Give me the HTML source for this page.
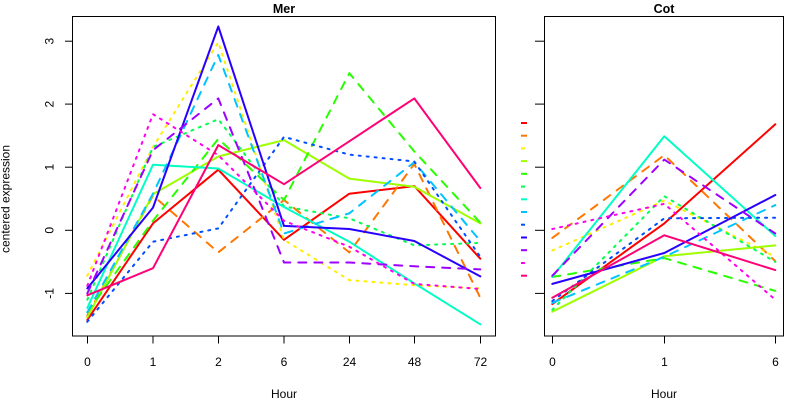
<!DOCTYPE html>
<html><head><meta charset="utf-8"><style>
html,body{margin:0;padding:0;background:#fff;}
svg{display:block;}
text{font-family:"Liberation Sans",Arial,sans-serif;fill:#000;}
</style></head><body>
<svg width="800" height="400" viewBox="0 0 800 400" xmlns="http://www.w3.org/2000/svg">
<rect width="800" height="400" fill="#fff"/>
<!-- titles -->
<text x="284" y="13" font-size="12.5" font-weight="bold" text-anchor="middle">Mer</text>
<text x="664" y="13" font-size="12.5" font-weight="bold" text-anchor="middle">Cot</text>
<!-- y label -->
<text x="9.5" y="199" font-size="12" text-anchor="middle" transform="rotate(-90 9.5 199)">centered expression</text>

<!-- left panel box -->
<rect x="72.5" y="16.5" width="423" height="319.5" fill="none" stroke="#000" stroke-width="1"/>
<!-- right panel box -->
<rect x="544.5" y="16.5" width="239" height="319.5" fill="none" stroke="#000" stroke-width="1"/>

<g stroke="#000" stroke-width="1">
<!-- left y ticks -->
<line x1="65" y1="41.2" x2="72.5" y2="41.2"/>
<line x1="65" y1="104.1" x2="72.5" y2="104.1"/>
<line x1="65" y1="167.2" x2="72.5" y2="167.2"/>
<line x1="65" y1="230.3" x2="72.5" y2="230.3"/>
<line x1="65" y1="293.4" x2="72.5" y2="293.4"/>
<!-- right y ticks -->
<line x1="535" y1="41.2" x2="544.5" y2="41.2"/>
<line x1="535" y1="104.1" x2="544.5" y2="104.1"/>
<line x1="535" y1="167.2" x2="544.5" y2="167.2"/>
<line x1="535" y1="230.3" x2="544.5" y2="230.3"/>
<line x1="535" y1="293.4" x2="544.5" y2="293.4"/>
<!-- left x ticks -->
<line x1="87.5" y1="336" x2="87.5" y2="343.5"/>
<line x1="153" y1="336" x2="153" y2="343.5"/>
<line x1="218.5" y1="336" x2="218.5" y2="343.5"/>
<line x1="284" y1="336" x2="284" y2="343.5"/>
<line x1="349.5" y1="336" x2="349.5" y2="343.5"/>
<line x1="414.5" y1="336" x2="414.5" y2="343.5"/>
<line x1="480.5" y1="336" x2="480.5" y2="343.5"/>
<!-- right x ticks -->
<line x1="552.5" y1="336" x2="552.5" y2="343.5"/>
<line x1="664.5" y1="336" x2="664.5" y2="343.5"/>
<line x1="775.5" y1="336" x2="775.5" y2="343.5"/>
</g>

<!-- y tick labels -->
<g font-size="12" text-anchor="middle">
<text x="53.5" y="41.2" transform="rotate(-90 53.5 41.2)">3</text>
<text x="53.5" y="104.1" transform="rotate(-90 53.5 104.1)">2</text>
<text x="53.5" y="167.2" transform="rotate(-90 53.5 167.2)">1</text>
<text x="53.5" y="230.3" transform="rotate(-90 53.5 230.3)">0</text>
<text x="53.5" y="293.4" transform="rotate(-90 53.5 293.4)">-1</text>
</g>
<!-- x tick labels -->
<g font-size="12" text-anchor="middle">
<text x="87.5" y="366">0</text>
<text x="153" y="366">1</text>
<text x="218.5" y="366">2</text>
<text x="284" y="366">6</text>
<text x="349.5" y="366">24</text>
<text x="414.5" y="366">48</text>
<text x="480.5" y="366">72</text>
<text x="552.5" y="366">0</text>
<text x="664.5" y="366">1</text>
<text x="775.5" y="366">6</text>
<text x="284" y="398">Hour</text>
<text x="664" y="398">Hour</text>
</g>

<!-- series -->
<g fill="none" stroke-width="2" stroke-linecap="round" stroke-linejoin="round">
<!-- 1 red solid -->
<polyline stroke="#FF0000" points="87.3,319.9 153,223.4 218.3,169.7 284,239.8 349.3,193.7 414.3,186.1 480.3,258.7"/>
<polyline stroke="#FF0000" points="552.3,304.1 664.3,223.4 775.3,124.3"/>
<!-- 2 orange dashed -->
<polyline stroke="#FF7600" stroke-dasharray="8 8" points="87.3,315.5 153,195.6 218.3,252.4 284,200 349.3,252.4 414.3,164 480.3,297.8"/>
<polyline stroke="#FF7600" stroke-dasharray="8 8" points="552.3,237.9 664.3,155.2 775.3,261.2"/>
<!-- 3 yellow dotted -->
<polyline stroke="#FFEC00" stroke-dasharray="2 6" points="87.3,275.7 153,147 218.3,42.3 284,239.8 349.3,280.1 414.3,285.2 480.3,288.4"/>
<polyline stroke="#FFEC00" stroke-dasharray="2 6" points="552.3,250.5 664.3,200.6 775.3,256.8"/>
<!-- 4 yellowgreen solid -->
<polyline stroke="#9DFF00" points="87.3,317.4 153,194.3 218.3,156.5 284,140.1 349.3,178.6 414.3,186.8 480.3,223.4"/>
<polyline stroke="#9DFF00" points="552.3,311.7 664.3,256.2 775.3,245.4"/>
<!-- 5 green dashed -->
<polyline stroke="#27FF00" stroke-dasharray="8 8" points="87.3,312.3 153,220.8 218.3,138.8 284,200 349.3,73.2 414.3,151.4 480.3,222.7"/>
<polyline stroke="#27FF00" stroke-dasharray="8 8" points="552.3,277 664.3,258.1 775.3,290.9"/>
<!-- 6 springgreen dotted -->
<polyline stroke="#00FF4E" stroke-dasharray="2 6" points="87.3,299.7 153,147 218.3,119.2 284,206.3 349.3,218.3 414.3,245.4 480.3,242.9"/>
<polyline stroke="#00FF4E" stroke-dasharray="2 6" points="552.3,309.8 664.3,196.2 775.3,261.9"/>
<!-- 7 aquamarine solid -->
<polyline stroke="#00FFC4" points="87.3,307.9 153,164.7 218.3,168.5 284,207 349.3,241.7 414.3,283.3 480.3,324.3"/>
<polyline stroke="#00FFC4" points="552.3,277 664.3,136.3 775.3,236"/>
<!-- 8 lightblue dashed -->
<polyline stroke="#00C4FF" stroke-dasharray="8 8" points="87.3,312.3 153,193.7 218.3,54.9 284,233.5 349.3,213.3 414.3,162.2 480.3,241"/>
<polyline stroke="#00C4FF" stroke-dasharray="8 8" points="552.3,302.9 664.3,256.8 775.3,205.1"/>
<!-- 9 blue dotted -->
<polyline stroke="#004EFF" stroke-dasharray="2 6" points="87.3,321.8 153,241.7 218.3,228.4 284,136.9 349.3,154.6 414.3,161.5 480.3,256.8"/>
<polyline stroke="#004EFF" stroke-dasharray="2 6" points="552.3,301 664.3,218.3 775.3,217.7"/>
<!-- 10 deep blue solid -->
<polyline stroke="#2700FF" points="87.3,288.4 153,207.6 218.3,26.5 284,225.9 349.3,229 414.3,241 480.3,276.4"/>
<polyline stroke="#2700FF" points="552.3,283.9 664.3,253 775.3,195"/>
<!-- 11 purple dashed -->
<polyline stroke="#9D00FF" stroke-dasharray="8 8" points="87.3,293.4 153,150.2 218.3,98.4 284,262.5 349.3,262.5 414.3,266.3 480.3,269.4"/>
<polyline stroke="#9D00FF" stroke-dasharray="8 8" points="552.3,275.7 664.3,159.6 775.3,233.5"/>
<!-- 12 magenta dotted -->
<polyline stroke="#FF00EC" stroke-dasharray="2 6" points="87.3,285.8 153,114.2 218.3,155.2 284,220.8 349.3,246.7 414.3,283.9 480.3,289"/>
<polyline stroke="#FF00EC" stroke-dasharray="2 6" points="552.3,229 664.3,203.8 775.3,299.7"/>
<!-- 13 deep pink solid -->
<polyline stroke="#FF0076" points="87.3,295.3 153,268.2 218.3,145.1 284,184.2 349.3,141.3 414.3,98.4 480.3,188"/>
<polyline stroke="#FF0076" points="552.3,297.8 664.3,235.3 775.3,270.1"/>
</g>

<!-- legend -->
<g stroke-width="2" fill="none">
<line x1="521" y1="123" x2="527" y2="123" stroke="#FF0000"/>
<line x1="521" y1="135.7" x2="527" y2="135.7" stroke="#FF7600"/>
<line x1="521" y1="148.4" x2="525" y2="148.4" stroke="#FFEC00"/>
<line x1="521" y1="161.1" x2="527" y2="161.1" stroke="#9DFF00"/>
<line x1="521" y1="173.8" x2="527" y2="173.8" stroke="#27FF00"/>
<line x1="521" y1="186.6" x2="525" y2="186.6" stroke="#00FF4E"/>
<line x1="521" y1="199.3" x2="527" y2="199.3" stroke="#00FFC4"/>
<line x1="521" y1="212" x2="527" y2="212" stroke="#00C4FF"/>
<line x1="521" y1="224.7" x2="525" y2="224.7" stroke="#004EFF"/>
<line x1="521" y1="237.5" x2="527" y2="237.5" stroke="#2700FF"/>
<line x1="521" y1="250.2" x2="527" y2="250.2" stroke="#9D00FF"/>
<line x1="521" y1="263" x2="525" y2="263" stroke="#FF00EC"/>
<line x1="521" y1="275.7" x2="527" y2="275.7" stroke="#FF0076"/>
</g>
</svg>
</body></html>
